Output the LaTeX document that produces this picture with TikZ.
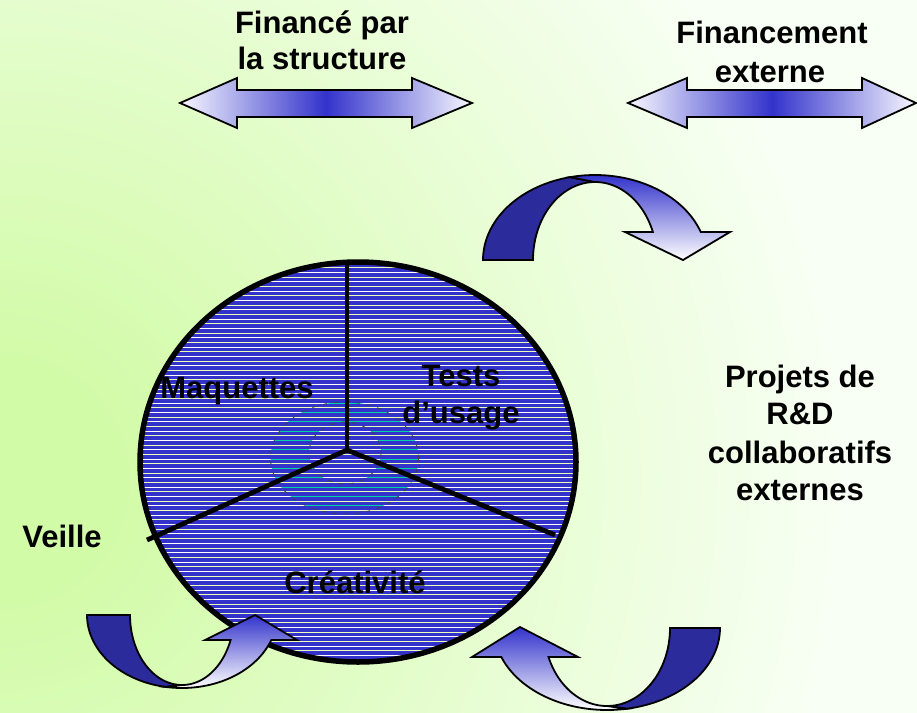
\documentclass[tikz,border=0pt]{standalone}
\usepackage{fontspec}
\setmainfont{Liberation Sans}
\definecolor{bgin}{RGB}{210,251,168}
\definecolor{bgout}{RGB}{248,255,244}
\definecolor{hatchblue}{RGB}{51,51,204}
\definecolor{backblue}{RGB}{43,43,155}
\definecolor{bandblue}{RGB}{51,51,204}
\definecolor{tipwhite}{RGB}{248,248,255}
\definecolor{ringteal}{RGB}{0,210,170}
\definecolor{hatchyellow}{RGB}{236,255,186}
% the path's bounding box covers the central +-25bp of the shading
\pgfdeclareradialshading{bgglow}{\pgfpoint{0bp}{0bp}}{color(0bp)=(bgin); color(3bp)=(bgin); color(21bp)=(bgout); color(50bp)=(bgout)}
\begin{document}
\begin{tikzpicture}[x=1pt,y=-1pt,
  lbl/.style={font=\fontsize{31}{36}\selectfont\bfseries, inner sep=0pt, anchor=base},
  outline/.style={draw=black, line width=1.8pt, line join=miter},
  dblarrow/.style={outline, left color=tipwhite, right color=tipwhite, middle color=bandblue},
  backband/.style={outline, fill=backblue},
  frontband/.style={outline, top color=bandblue, bottom color=white},
  hatchline/.style={line width=0.75pt},
  sector/.style={line width=4.8pt, draw=black}]

% page and background glow
\useasboundingbox (0,0) rectangle (917,712);
\fill[bgout] (0,0) rectangle (917,712);
\begin{scope}
  \clip (0,0) rectangle (917,712);
  \shade[shading=bgglow] (0,480) circle (1000);
\end{scope}

% striped disc
\begin{scope}
  \clip (358,462) ellipse [x radius=218, y radius=200];
  \fill[hatchblue] (130,255) rectangle (590,670);
  \foreach \yy in {263,272.34,...,666} {\draw[hatchline, white] (130,\yy) -- (590,\yy);}
  \foreach \yy in {267.67,277.01,...,666} {\draw[hatchline, hatchyellow] (130,\yy) -- (590,\yy);}
  % circular swirl in the middle
  \begin{scope}[even odd rule]
    \clip (344.5,458) ellipse [x radius=74, y radius=56] (345,453) ellipse [x radius=36, y radius=31];
    \foreach \yy in {263,272.34,...,666} {\draw[hatchline, ringteal] (260,\yy) -- (430,\yy);}
  \end{scope}
  \draw[black!75, line width=0.8pt, dash pattern=on 4pt off 7pt] (344.5,458) ellipse [x radius=74, y radius=56];
  \draw[black!75, line width=0.8pt, dash pattern=on 4pt off 7pt] (345,453) ellipse [x radius=36, y radius=31];
\end{scope}

% sector dividers
\coordinate (hub) at (347,450);
\coordinate (sTop) at (347,262);
\coordinate (sLeft) at (147,540);
\coordinate (sRight) at (555,535);
\draw[sector] (hub) -- (sTop);
\draw[sector] (hub) -- (sLeft);
\draw[sector] (hub) -- (sRight);
\draw[line width=5.5pt] (358,462) ellipse [x radius=218, y radius=200];

% sector labels
\node[lbl] (maq) at (237,398) {Maquettes};
\node[lbl] (tests) at (461,386) {Tests};
\node[lbl] (usage) at (461,423) {d’usage};
\node[lbl] (crea) at (355,593) {Créativité};

% side and top labels
\node[lbl] (veille) at (62,547) {Veille};
\node[lbl] (fin1) at (322,33) {Financé par};
\node[lbl] (fin2) at (322,69) {la structure};
\node[lbl] (ext1) at (772,43) {Financement};
\node[lbl] (ext2) at (770,82) {externe};
\node[lbl] (proj1) at (800,387) {Projets de};
\node[lbl] (proj2) at (800,424) {R\&D};
\node[lbl] (proj3) at (800,463) {collaboratifs};
\node[lbl] (proj4) at (800,500) {externes};

% double-headed funding arrows
\path[dblarrow] (180,103) -- (237,78) -- (237,90) -- (412,90) -- (412,78) -- (472,103)
  -- (412,128) -- (412,117) -- (237,117) -- (237,128) -- cycle;
\path[dblarrow] (628,103) -- (687,78) -- (687,90) -- (862,90) -- (862,78) -- (916,103)
  -- (862,128) -- (862,117) -- (687,117) -- (687,128) -- cycle;

% curved arrow, top right (turning down)
\path[backband] plot[domain=180:257, samples=40] ({595+112*cos(\x)},{260+85*sin(\x)})
  -- (595,182) -- plot[domain=270:180, samples=40] ({595+62*cos(\x)},{260+78*sin(\x)}) -- cycle;
\path[frontband] plot[domain=257:340.8, samples=40] ({595+112*cos(\x)},{260+85*sin(\x)})
  -- (730,232) -- (683,260) -- (625,232)
  -- plot[domain=339:270, samples=40] ({595+62*cos(\x)},{260+78*sin(\x)}) -- cycle;

% curved arrow, bottom left (turning up)
\path[backband] plot[domain=180:100, samples=40] ({182+95*cos(\x)},{615+73*sin(\x)})
  -- (182,685) -- plot[domain=90:180, samples=40] ({182+52*cos(\x)},{615+70*sin(\x)}) -- cycle;
\path[frontband] plot[domain=100:20, samples=40] ({182+95*cos(\x)},{615+73*sin(\x)})
  -- (297,640) -- (255,615) -- (205,640)
  -- plot[domain=20.9:90, samples=40] ({182+52*cos(\x)},{615+70*sin(\x)}) -- cycle;

% curved arrow, bottom right (turning up)
\path[backband] plot[domain=0:80, samples=40] ({607+113*cos(\x)},{628+82*sin(\x)})
  -- (607,706) -- plot[domain=90:0, samples=40] ({607+63*cos(\x)},{628+78*sin(\x)}) -- cycle;
\path[frontband] plot[domain=80:159.3, samples=40] ({607+113*cos(\x)},{628+82*sin(\x)})
  -- (472,657) -- (520,627) -- (578,657)
  -- plot[domain=158.2:90, samples=40] ({607+63*cos(\x)},{628+78*sin(\x)}) -- cycle;
\end{tikzpicture}
\end{document}
